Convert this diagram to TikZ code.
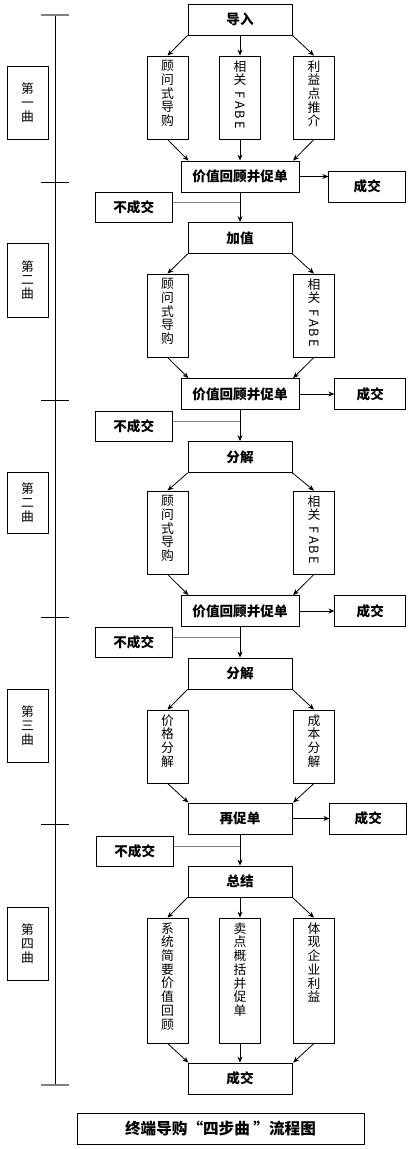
\documentclass[tikz,border=0pt]{standalone}
\usepackage{fontspec}
\setmainfont{Noto Sans CJK SC}
\usetikzlibrary{arrows.meta, positioning}
\tikzstyle{stage} = [rectangle, line width=0.8pt, minimum width=104pt, minimum height=31pt, inner sep=0pt, text centered, draw=black, font=\fontsize{13.6}{15}\selectfont\bfseries]
\tikzstyle{review} = [stage, minimum width=118pt]
\tikzstyle{deal} = [stage, minimum width=71pt]
\tikzstyle{nodeal} = [stage, minimum width=77pt, minimum height=30pt]
\tikzstyle{sub} = [rectangle, line width=0.8pt, inner sep=0pt, draw=black, font=\fontsize{12.8}{13.7}\selectfont]
\tikzstyle{part} = [sub, minimum width=41pt, align=center]
\tikzstyle{arrow} = [line width=0.8pt, -{Stealth[length=6pt, width=5pt]}]
\tikzstyle{link} = [line width=0.8pt, draw=gray]
\newcommand{\colstack}[2]{\parbox[c][#1][t]{41pt}{\centering\vspace*{4.5pt}#2}}
\newcommand{\fabetext}{相\\关\\[5pt]\rotatebox[origin=c]{-90}{F\kern2pt A\kern2pt B\kern2pt E}}

\begin{document}
\begin{tikzpicture}[x=1pt, y=-1pt]
	\useasboundingbox (0,0) rectangle (413,1149);
	% time line
	\draw[line width=0.8pt] (55,15) -- (55,1085);
	\foreach \y in {182,400,617,824} \draw[line width=0.8pt] (41,\y) -- (69,\y);
	\foreach \y in {15,1085} \draw[line width=1.2pt, gray] (41,\y) -- (69,\y);
	\node (Part1) [part, minimum height=73pt] at (27.5,102.5) {第\\一\\曲};
	\node (Part2) [part, minimum height=74pt] at (27.5,280) {第\\二\\曲};
	\node (Part3) [part, minimum height=61pt] at (27.5,502.5) {第\\二\\曲};
	\node (Part4) [part, minimum height=73pt] at (27.5,725.5) {第\\三\\曲};
	\node (Part5) [part, minimum height=73pt] at (27.5,943.5) {第\\四\\曲};
	
	% first step
	\node (Intro) [stage] at (240,19.5) {导入};
	\node (Consult1) [sub] at (167.5,97.5) {\colstack{83pt}{顾\\问\\式\\导\\购}};
	\node (Fabe1) [sub] at (240,97.5) {\colstack{83pt}{\fabetext}};
	\node (Benefit1) [sub] at (314,97.5) {\colstack{83pt}{利\\益\\点\\推\\介}};
	\node (Review1) [review] at (240,176.5) {价值回顾并促单};
	\node (Deal1) [deal, minimum width=77pt, right = 29pt of Review1, yshift=-10pt] {成交};
	\node (NoDeal1) [nodeal, below left = 0pt and 8pt of Review1.south west] {不成交};
	\draw [arrow] (Intro.south west) -- (Consult1.north);
	\draw [arrow] (Intro) -- (Fabe1);
	\draw [arrow] (Intro.south east) -- (Benefit1.north);
	\draw [arrow] (Consult1.south) -- (Consult1.east |- Review1.north);
	\draw [arrow] (Fabe1) -- (Review1);
	\draw [arrow] (Benefit1.south) -- (Benefit1.west |- Review1.north);
	\draw [arrow] (Review1) -- (Review1.east -| Deal1.west);
	
	% second step
	\node (AddValue) [stage] at (240,238) {加值};
	\node (Consult2) [sub] at (167.5,315.5) {\colstack{83pt}{顾\\问\\式\\导\\购}};
	\node (Fabe2) [sub] at (314,315.5) {\colstack{83pt}{\fabetext}};
	\node (Review2) [review] at (240,394) {价值回顾并促单};
	\node (Deal2) [deal, right = 35pt of Review2] {成交};
	\node (NoDeal2) [nodeal, below left = 1pt and 8pt of Review2.south west] {不成交};
	\draw [link] ([yshift=5pt]NoDeal1.east) -- ([yshift=5pt]NoDeal1.east -| Review1.south);
	\draw [arrow] (Review1) -- (AddValue);
	\draw [arrow] (AddValue.south west) -- (Consult2.north);
	\draw [arrow] (AddValue.south east) -- (Fabe2.north);
	\draw [arrow] (Consult2.south) -- (Consult2.east |- Review2.north);
	\draw [arrow] (Fabe2.south) -- (Fabe2.west |- Review2.north);
	\draw [arrow] (Review2) -- (Deal2);
	
	% third step
	\node (Split1) [stage] at (240,457) {分解};
	\node (Consult3) [sub] at (167.5,532.5) {\colstack{83pt}{顾\\问\\式\\导\\购}};
	\node (Fabe3) [sub] at (314,532.5) {\colstack{83pt}{\fabetext}};
	\node (Review3) [review] at (240,611) {价值回顾并促单};
	\node (Deal3) [deal, right = 35pt of Review3] {成交};
	\node (NoDeal3) [nodeal, below left = 0pt and 8pt of Review3.south west] {不成交};
	\draw [link] ([yshift=5pt]NoDeal2.east) -- ([yshift=5pt]NoDeal2.east -| Review2.south);
	\draw [arrow] (Review2) -- (Split1);
	\draw [arrow] (Split1.south west) -- (Consult3.north);
	\draw [arrow] (Split1.south east) -- (Fabe3.north);
	\draw [arrow] (Consult3.south) -- (Consult3.east |- Review3.north);
	\draw [arrow] (Fabe3.south) -- (Fabe3.west |- Review3.north);
	\draw [arrow] (Review3) -- (Deal3);
	
	% fourth step
	\node (Split2) [stage] at (240,673.5) {分解};
	\node (Price) [sub] at (167.5,746.5) {\colstack{73pt}{价\\格\\分\\解}};
	\node (Cost) [sub] at (314,746.5) {\colstack{73pt}{成\\本\\分\\解}};
	\node (Promo) [stage] at (240,818.5) {再促单};
	\node (Deal4) [deal, minimum width=77pt, right = 37pt of Promo] {成交};
	\node (NoDeal4) [nodeal, below left = 2pt and 14pt of Promo.south west] {不成交};
	\draw [link] ([yshift=5pt]NoDeal3.east) -- ([yshift=5pt]NoDeal3.east -| Review3.south);
	\draw [arrow] (Review3) -- (Split2);
	\draw [arrow] (Split2.south west) -- (Price.north);
	\draw [arrow] (Split2.south east) -- (Cost.north);
	\draw [arrow] (Price.south) -- (Price.east |- Promo.north);
	\draw [arrow] (Cost.south) -- (Cost.west |- Promo.north);
	\draw [arrow] (Promo) -- (Deal4);
	
	% fifth step
	\node (Summary) [stage] at (240,881.5) {总结};
	\node (Recap) [sub] at (167.5,980.5) {\colstack{125pt}{系\\统\\简\\要\\价\\值\\回\\顾}};
	\node (Selling) [sub] at (240,980.5) {\colstack{125pt}{卖\\点\\概\\括\\并\\促\\单}};
	\node (Profit) [sub] at (314,980.5) {\colstack{125pt}{体\\现\\企\\业\\利\\益}};
	\node (Final) [stage] at (240,1078.5) {成交};
	\draw [link] ([yshift=5pt]NoDeal4.east) -- ([yshift=5pt]NoDeal4.east -| Promo.south);
	\draw [arrow] (Promo) -- (Summary);
	\draw [arrow] (Summary.south west) -- (Recap.north);
	\draw [arrow] (Summary) -- (Selling);
	\draw [arrow] (Summary.south east) -- (Profit.north);
	\draw [arrow] (Recap.south) -- (Recap.east |- Final.north);
	\draw [arrow] (Selling) -- (Final);
	\draw [arrow] (Profit.south) -- (Profit.west |- Final.north);
	
	\node (Title) [stage, minimum width=287pt, font=\fontsize{15.6}{17}\selectfont\bfseries] at (220.5,1128.5) {终端导购“四步曲 ”流程图};
\end{tikzpicture}
\end{document}
